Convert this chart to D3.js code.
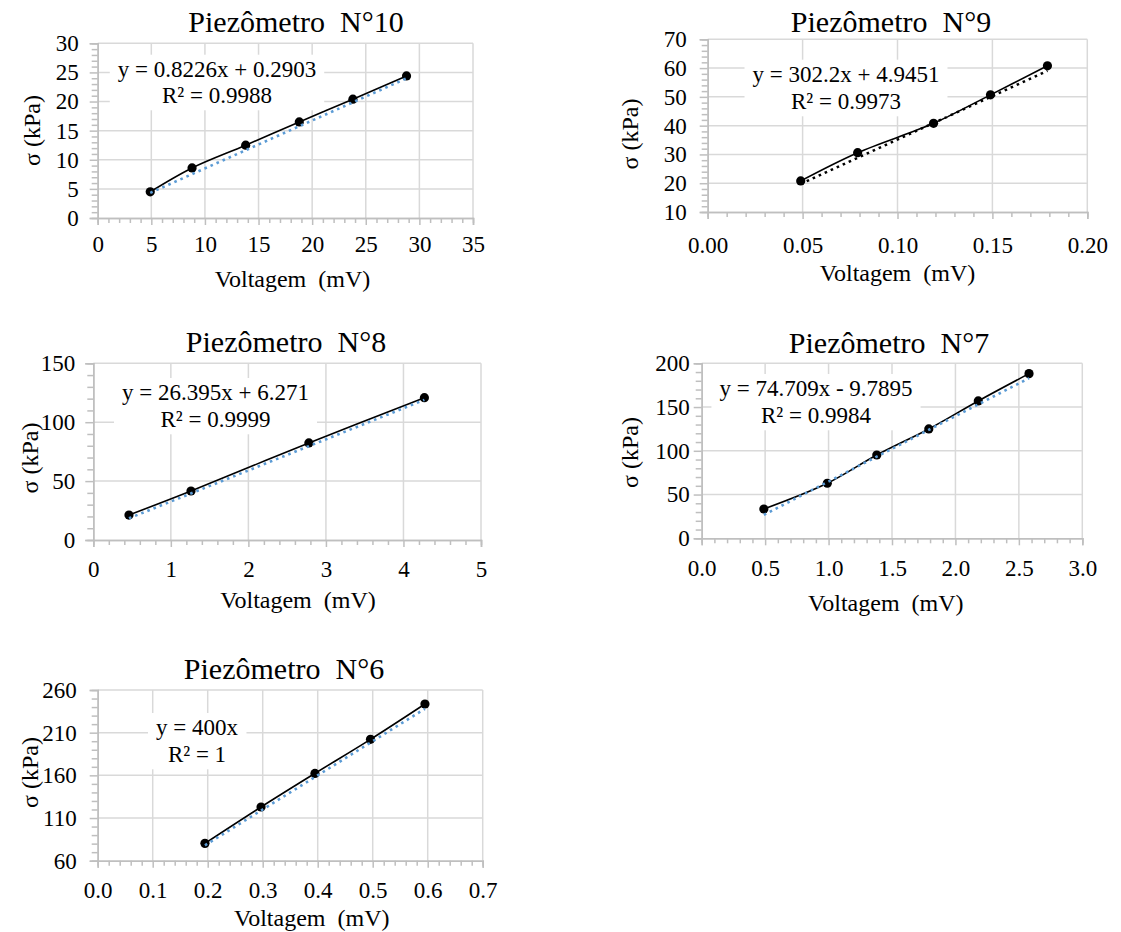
<!DOCTYPE html>
<html><head><meta charset="utf-8">
<script src="https://cdn.jsdelivr.net/npm/d3@7"></script>
<style>
body{margin:0;background:#fff}
svg{display:block}
</style>
</head><body>
<svg id="c" width="1121" height="932"></svg>
<script>
// ---- data ----
const titles = ["Piezômetro\u00a0\u00a0N°10", "Piezômetro\u00a0\u00a0N°9", "Piezômetro\u00a0\u00a0N°8", "Piezômetro\u00a0\u00a0N°7", "Piezômetro\u00a0\u00a0N°6"];
const xTitle = "Voltagem\u00a0\u00a0(mV)";
const yTitle = "σ (kPa)";

const volt10 = [4.9, 8.8, 13.8, 18.8, 23.8, 28.8];
const sig10  = [4.5, 8.6, 12.5, 16.5, 20.4, 24.4];
const volt9  = [0.049, 0.079, 0.119, 0.149, 0.179];
const sig9   = [20.8, 30.6, 40.8, 50.7, 60.8];
const volt8  = [0.46, 1.26, 2.78, 4.27];
const sig8   = [21.2, 41.6, 82.4, 120.8];
const volt7  = [0.49, 0.99, 1.38, 1.79, 2.18, 2.58];
const sig7   = [33.5, 62.9, 95.2, 125.0, 157.0, 188.2];
const volt6  = [0.195, 0.297, 0.395, 0.496, 0.595];
const sig6   = [80.3, 122.9, 162.3, 202.2, 243.6];

// trendline coefficients [slope, intercept] and labels
const trendCoef = [[0.8226, 0.2903], [302.2, 4.9451], [26.395, 6.271], [74.709, -9.7895], [400, 0]];
const eqLabels = [
  ["y = 0.8226x + 0.2903", "R² = 0.9988"],
  ["y = 302.2x + 4.9451", "R² = 0.9973"],
  ["y = 26.395x + 6.271", "R² = 0.9999"],
  ["y = 74.709x - 9.7895", "R² = 0.9984"],
  ["y = 400x", "R² = 1"]
];

// tick values
const xTicks10 = [0, 5, 10, 15, 20, 25, 30, 35];
const yTicks10 = [0, 5, 10, 15, 20, 25, 30];
const xTicks9  = [0, 0.05, 0.10, 0.15, 0.20];
const yTicks9  = [10, 20, 30, 40, 50, 60, 70];
const xTicks8  = [0, 1, 2, 3, 4, 5];
const yTicks8  = [0, 50, 100, 150];
const xTicks7  = [0, 0.5, 1.0, 1.5, 2.0, 2.5, 3.0];
const yTicks7  = [0, 50, 100, 150, 200];
const xTicks6  = [0, 0.1, 0.2, 0.3, 0.4, 0.5, 0.6, 0.7];
const yTicks6  = [60, 110, 160, 210, 260];
const xFormats = [d3.format("d"), d3.format(".2f"), d3.format("d"), d3.format(".1f"), d3.format(".1f")];

// ---- layout (positions / styles) ----
const layouts = [
  {x0: 97.7, x1: 473, y0: 43.3, y1: 218, title: [296, 32.3], xt: [292.5, 286.7], yt: [31.7, 130.5], xlab: 34.3, ygap: 19, eq: [217, 76.7, 103.3], trend: "#5b9bd5"},
  {x0: 707.7, x1: 1087.3, y0: 39.3, y1: 212, title: [891, 32.3], xt: [897.5, 281], yt: [630, 134], xlab: 41.3, ygap: 21, eq: [846, 81.7, 109.3], trend: "#000"},
  {x0: 93.3, x1: 481, y0: 363.3, y1: 540, title: [286, 352.3], xt: [298, 608.3], yt: [30, 458], xlab: 37.3, ygap: 18, eq: [215.5, 400, 427.3], trend: "#5b9bd5"},
  {x0: 701.7, x1: 1082.3, y0: 363.3, y1: 538.3, title: [889, 353.3], xt: [885.8, 611], yt: [630, 452.5], xlab: 37.7, ygap: 12, eq: [816, 396, 423.3], trend: "#5b9bd5"},
  {x0: 97.7, x1: 482.7, y0: 690, y1: 860.7, title: [284, 679.3], xt: [311.7, 926], yt: [30, 772.5], xlab: 37.6, ygap: 21, eq: [197, 735, 762.3], trend: "#5b9bd5"}
];

const series = [
  {xs: volt10, ys: sig10, xt: xTicks10, yt: yTicks10},
  {xs: volt9, ys: sig9, xt: xTicks9, yt: yTicks9},
  {xs: volt8, ys: sig8, xt: xTicks8, yt: yTicks8},
  {xs: volt7, ys: sig7, xt: xTicks7, yt: yTicks7},
  {xs: volt6, ys: sig6, xt: xTicks6, yt: yTicks6}
];

const FONT = "'Liberation Serif', 'Times New Roman', Times, serif";
const svg = d3.select("#c").style("font-family", FONT);
const GRID = "#d9d9d9", AXIS = "#bfbfbf";
const TICK_FS = 23, TITLE_FS = 30, AX_FS = 24, EQ_FS = 23;

function minorTicks(ticks) {
  const step = (ticks[1] - ticks[0]) / 5;
  const out = [];
  for (let i = 0; i < ticks.length - 1; i++)
    for (let k = 1; k < 5; k++) out.push(ticks[i] + k * step);
  return out;
}

function txt(sel) {
  return sel.style("font-family", FONT).attr("fill", "#000");
}

series.forEach((s, i) => {
  const L = layouts[i];
  const g = svg.append("g");
  const x = d3.scaleLinear().domain([s.xt[0], s.xt[s.xt.length - 1]]).range([L.x0, L.x1]);
  const y = d3.scaleLinear().domain([s.yt[0], s.yt[s.yt.length - 1]]).range([L.y1, L.y0]);

  // gridlines
  g.append("g").selectAll("line").data(s.xt.slice(1)).join("line")
    .attr("x1", d => x(d)).attr("x2", d => x(d)).attr("y1", L.y0).attr("y2", L.y1)
    .attr("stroke", GRID).attr("stroke-width", 1.5);
  g.append("g").selectAll("line").data(s.yt.slice(1)).join("line")
    .attr("x1", L.x0).attr("x2", L.x1).attr("y1", d => y(d)).attr("y2", d => y(d))
    .attr("stroke", GRID).attr("stroke-width", 1.5);

  // minor ticks
  const xMinor = g.append("g").attr("transform", `translate(0,${L.y1})`)
    .call(d3.axisBottom(x).tickValues(minorTicks(s.xt)).tickSize(5).tickFormat(""));
  const yMinor = g.append("g").attr("transform", `translate(${L.x0},0)`)
    .call(d3.axisLeft(y).tickValues(minorTicks(s.yt)).tickSize(6).tickFormat(""));
  // major ticks
  const xMajor = g.append("g").attr("transform", `translate(0,${L.y1})`)
    .call(d3.axisBottom(x).tickValues(s.xt).tickSize(7).tickFormat(""));
  const yMajor = g.append("g").attr("transform", `translate(${L.x0},0)`)
    .call(d3.axisLeft(y).tickValues(s.yt).tickSize(8).tickFormat(""));
  [xMinor, yMinor, xMajor, yMajor].forEach(a => {
    a.select(".domain").attr("stroke", AXIS).attr("stroke-width", 1.5);
    a.selectAll(".tick line").attr("stroke", AXIS).attr("stroke-width", 1.5);
  });
  // tick labels
  const xLab = g.append("g").attr("transform", `translate(0,${L.y1})`)
    .call(d3.axisBottom(x).tickValues(s.xt).tickSize(0).tickPadding(L.xlab - 0.71 * TICK_FS).tickFormat(xFormats[i]));
  const yLab = g.append("g").attr("transform", `translate(${L.x0},0)`)
    .call(d3.axisLeft(y).tickValues(s.yt).tickSize(0).tickPadding(L.ygap).tickFormat(d3.format("d")));
  [xLab, yLab].forEach(a => {
    a.attr("font-family", null).attr("font-size", null);
    a.select(".domain").remove();
    txt(a.selectAll("text")).attr("font-size", TICK_FS);
  });

  const pts = s.xs.map((v, k) => [v, s.ys[k]]);
  // series line (smoothed)
  g.append("path").datum(pts)
    .attr("d", d3.line().x(d => x(d[0])).y(d => y(d[1])).curve(d3.curveCatmullRom.alpha(0.5)))
    .attr("fill", "none").attr("stroke", "#000").attr("stroke-width", 1.6);
  // markers
  g.append("g").selectAll("circle").data(pts).join("circle")
    .attr("cx", d => x(d[0])).attr("cy", d => y(d[1])).attr("r", 4.6).attr("fill", "#000");
  // trendline
  const [m, b] = trendCoef[i];
  const ends = [s.xs[0], s.xs[s.xs.length - 1]].map(v => [v, m * v + b]);
  g.append("path").datum(ends)
    .attr("d", d3.line().x(d => x(d[0])).y(d => y(d[1])))
    .attr("fill", "none").attr("stroke", L.trend).attr("stroke-width", 2.6)
    .attr("stroke-dasharray", "2.6,4");

  // equation label
  const eg = g.append("g");
  const rect = eg.append("rect").attr("fill", "#fff");
  txt(eg.selectAll("text").data(eqLabels[i]).join("text"))
    .attr("x", L.eq[0]).attr("y", (d, k) => L.eq[1 + k])
    .attr("text-anchor", "middle").attr("font-size", EQ_FS).text(d => d);
  const bb = eg.node().getBBox();
  rect.attr("x", bb.x - 8).attr("y", bb.y - 2).attr("width", bb.width + 16).attr("height", bb.height + 4);

  // titles
  txt(g.append("text")).attr("x", L.title[0]).attr("y", L.title[1]).attr("text-anchor", "middle")
    .attr("font-size", TITLE_FS).text(titles[i]);
  txt(g.append("text")).attr("x", L.xt[0]).attr("y", L.xt[1]).attr("text-anchor", "middle")
    .attr("font-size", AX_FS).text(xTitle);
  txt(g.append("text")).attr("transform", `translate(${L.yt[0]},${L.yt[1]}) rotate(-90)`)
    .attr("text-anchor", "middle").attr("dominant-baseline", "central")
    .attr("font-size", AX_FS).text(yTitle);
});
</script>
</body></html>
